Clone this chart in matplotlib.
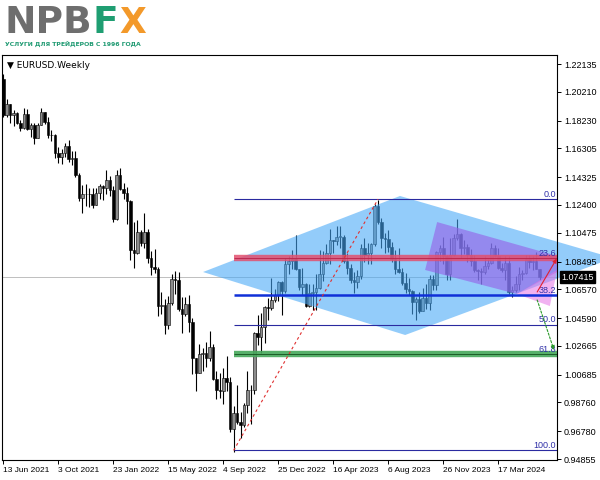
import matplotlib
matplotlib.use("Agg")
import matplotlib.pyplot as plt
import matplotlib.transforms as mtransforms
from matplotlib.patches import Polygon

plt.rcParams['font.family'] = ['Liberation Sans', 'DejaVu Sans']

# weekly EURUSD candles, one bar per week from 13 Jun 2021
first_open = 1.2107

closes_2021 = [1.1864, 1.1937, 1.1863, 1.1877, 1.1807, 1.1770, 1.1870, 1.1762, 1.1795, 1.1700,
               1.1795, 1.1882, 1.1813, 1.1725, 1.1720, 1.1596, 1.1574, 1.1602, 1.1645, 1.1560,
               1.1567, 1.1445, 1.1290, 1.1318, 1.1316, 1.1317, 1.1240, 1.1320, 1.1370]
highs_2021 = [1.2146, 1.1975, 1.1937, 1.1895, 1.1880, 1.1829, 1.1909, 1.1900, 1.1805, 1.1805,
              1.1805, 1.1909, 1.1885, 1.1846, 1.1755, 1.1727, 1.1640, 1.1624, 1.1669, 1.1692,
              1.1616, 1.1611, 1.1464, 1.1375, 1.1383, 1.1355, 1.1360, 1.1360, 1.1386]
lows_2021 = [1.1847, 1.1848, 1.1807, 1.1782, 1.1800, 1.1751, 1.1765, 1.1755, 1.1706, 1.1664,
             1.1700, 1.1790, 1.1800, 1.1700, 1.1684, 1.1563, 1.1529, 1.1524, 1.1571, 1.1535,
             1.1513, 1.1432, 1.1264, 1.1186, 1.1235, 1.1228, 1.1222, 1.1260, 1.1279]

closes_2022 = [1.1360, 1.1410, 1.1345, 1.1145, 1.1450, 1.1350, 1.1320, 1.1270, 1.0930, 1.0910,
               1.1050, 1.0980, 1.1050, 1.0875, 1.0810, 1.0795, 1.0545, 1.0550, 1.0410, 1.0560,
               1.0730, 1.0720, 1.0520, 1.0490, 1.0555, 1.0430, 1.0180, 1.0080, 1.0210, 1.0220,
               1.0180, 1.0260, 1.0040, 0.9965, 0.9955, 1.0045, 1.0015, 0.9690, 0.9800, 0.9740,
               0.9720, 0.9860, 0.9965, 0.9960, 1.0355, 1.0325, 1.0395, 1.0535, 1.0530, 1.0585,
               1.0615, 1.0705]
highs_2022 = [1.1380, 1.1483, 1.1440, 1.1370, 1.1483, 1.1495, 1.1395, 1.1365, 1.1272, 1.1121,
              1.1137, 1.1070, 1.1185, 1.1075, 1.0925, 1.0937, 1.0810, 1.0642, 1.0590, 1.0608,
              1.0765, 1.0787, 1.0774, 1.0601, 1.0605, 1.0615, 1.0460, 1.0185, 1.0278, 1.0255,
              1.0293, 1.0368, 1.0280, 1.0090, 1.0080, 1.0113, 1.0197, 1.0050, 0.9853, 0.9999,
              0.9810, 0.9875, 1.0094, 1.0000, 1.0365, 1.0481, 1.0497, 1.0545, 1.0595, 1.0737,
              1.0660, 1.0713]
lows_2022 = [1.1272, 1.1315, 1.1300, 1.1121, 1.1133, 1.1340, 1.1280, 1.1106, 1.0860, 1.0806,
             1.0900, 1.0960, 1.0945, 1.0837, 1.0757, 1.0770, 1.0470, 1.0490, 1.0350, 1.0380,
             1.0550, 1.0627, 1.0505, 1.0359, 1.0470, 1.0365, 1.0071, 0.9952, 1.0078, 1.0096,
             1.0123, 1.0160, 1.0030, 0.9900, 0.9910, 0.9864, 0.9955, 0.9670, 0.9536, 0.9730,
             0.9630, 0.9705, 0.9800, 0.9730, 0.9935, 1.0270, 1.0220, 1.0290, 1.0443, 1.0515,
             1.0570, 1.0580]

closes_2023 = [1.0645, 1.0830, 1.0855, 1.0870, 1.0795, 1.0675, 1.0695, 1.0545, 1.0635, 1.0640,
               1.0670, 1.0760, 1.0840, 1.0905, 1.0995, 1.0990, 1.1020, 1.1020, 1.0850, 1.0805,
               1.0720, 1.0710, 1.0750, 1.0940, 1.0895, 1.0910, 1.0970, 1.1230, 1.1125, 1.1015,
               1.1005, 1.0950, 1.0870, 1.0795, 1.0775, 1.0700, 1.0660, 1.0645, 1.0570, 1.0590,
               1.0510, 1.0595, 1.0565, 1.0730, 1.0685, 1.0915, 1.0940, 1.0885, 1.0760, 1.0895,
               1.1010, 1.1040]
highs_2023 = [1.0713, 1.0874, 1.0887, 1.0930, 1.1033, 1.0800, 1.0805, 1.0700, 1.0695, 1.0695,
              1.0760, 1.0930, 1.0925, 1.0973, 1.1075, 1.1000, 1.1095, 1.1092, 1.1030, 1.0905,
              1.0830, 1.0780, 1.0790, 1.0970, 1.1012, 1.0976, 1.0975, 1.1245, 1.1276, 1.1150,
              1.1045, 1.1065, 1.0985, 1.0930, 1.0945, 1.0805, 1.0770, 1.0735, 1.0655, 1.0605,
              1.0640, 1.0670, 1.0695, 1.0755, 1.0755, 1.0925, 1.0965, 1.1017, 1.0895, 1.1009,
              1.1040, 1.1140]
lows_2023 = [1.0483, 1.0635, 1.0765, 1.0800, 1.0790, 1.0655, 1.0615, 1.0535, 1.0533, 1.0516,
             1.0515, 1.0660, 1.0712, 1.0830, 1.0830, 1.0910, 1.0965, 1.0942, 1.0840, 1.0760,
             1.0700, 1.0635, 1.0665, 1.0730, 1.0845, 1.0835, 1.0833, 1.0960, 1.1110, 1.0945,
             1.0910, 1.0915, 1.0845, 1.0765, 1.0770, 1.0685, 1.0630, 1.0615, 1.0490, 1.0448,
             1.0495, 1.0525, 1.0520, 1.0515, 1.0655, 1.0655, 1.0850, 1.0830, 1.0725, 1.0725,
             1.0890, 1.1000]

closes_2024 = [1.0940, 1.0950, 1.0895, 1.0855, 1.0790, 1.0785, 1.0775, 1.0820, 1.0840, 1.0940,
               1.0890, 1.0808, 1.0790, 1.0837, 1.0642, 1.0655, 1.0695, 1.0760, 1.0770, 1.0870,
               1.0848, 1.0850, 1.0800, 1.07415]
highs_2024 = [1.1045, 1.0998, 1.0970, 1.0935, 1.0895, 1.0795, 1.0805, 1.0888, 1.0865, 1.0980,
              1.0965, 1.0942, 1.0840, 1.0885, 1.0885, 1.0680, 1.0750, 1.0812, 1.0790, 1.0895,
              1.0895, 1.0890, 1.0916, 1.0800]
lows_2024 = [1.0875, 1.0900, 1.0845, 1.0820, 1.0780, 1.0720, 1.0695, 1.0760, 1.0795, 1.0835,
             1.0880, 1.0800, 1.0775, 1.0725, 1.0622, 1.0601, 1.0640, 1.0650, 1.0725, 1.0765,
             1.0805, 1.0790, 1.0795, 1.0720]

closes = closes_2021 + closes_2022 + closes_2023 + closes_2024
highs = highs_2021 + highs_2022 + highs_2023 + highs_2024
lows = lows_2021 + lows_2022 + lows_2023 + lows_2024
opens = [first_open] + closes[:-1]

date_ticks = [0, 16, 32, 48, 64, 80, 96, 112, 128, 144]
date_labels = ['13 Jun 2021', '3 Oct 2021', '23 Jan 2022', '15 May 2022', '4 Sep 2022',
               '25 Dec 2022', '16 Apr 2023', '6 Aug 2023', '26 Nov 2023', '17 Mar 2024']
price_ticks = [1.22135, 1.20210, 1.18230, 1.16305, 1.14325, 1.12400, 1.10475, 1.08495,
               1.06570, 1.04590, 1.02665, 1.00685, 0.98760, 0.96780, 0.94855]
last_price = 1.07415

# fibonacci grid from the Sep 2022 low to the Jul 2023 high
fib_low_bar = 67
fib_high_bar = 109
fib_low = 0.9545
fib_high = 1.1280
fib_ratios = [0.0, 23.6, 38.2, 50.0, 61.8, 100.0]

# drawn objects (bar index, price)
diamond_bars = [58.1, 115.4, 177.4, 116.9]
diamond_prices = [1.0777, 1.1302, 1.0874, 1.0342]
channel_bars = [126.2, 161.1, 161.1, 149.4, 122.7]
channel_prices = [1.1122, 1.0888, 1.0777, 1.0625, 1.0791]
tri_bars = [149.4, 161.1, 159.0]
tri_prices = [1.0625, 1.0791, 1.0542]
up_arrow_bars = [155.3, 161.0]
up_arrow_prices = [1.0639, 1.0870]
down_arrow_bars = [155.3, 160.2]
down_arrow_prices = [1.0584, 1.0238]

fig = plt.figure(figsize=(6, 4.8), dpi=100)
ax = fig.add_axes([2 / 600, 20 / 480, 555 / 600, 405 / 480])
ax.set_xlim(-0.38, 161.07)
ax.set_ylim(0.94787, 1.22757)

# candles
n = len(closes)
idx = list(range(n))
wick_lo = [min(lows[i], opens[i], closes[i]) for i in idx]
wick_hi = [max(highs[i], opens[i], closes[i]) for i in idx]
ax.vlines(idx, wick_lo, wick_hi, color='black', lw=0.8, zorder=1)
body_bot = [min(opens[i], closes[i]) for i in idx]
body_h = [max(abs(closes[i] - opens[i]), 0.0003) for i in idx]
body_col = ['#8c8c8c' if closes[i] >= opens[i] else 'black' for i in idx]
ax.bar(idx, body_h, bottom=body_bot, width=0.75, color=body_col,
       edgecolor='black', linewidth=0.4, zorder=1.1)

# current price line
ax.axhline(last_price, color='#b4b4b4', lw=0.6, zorder=0.9)

# shapes
ax.add_patch(Polygon(list(zip(diamond_bars, diamond_prices)), closed=True,
                     facecolor='#46a8f7', alpha=0.58, edgecolor='none',
                     zorder=1.5, clip_on=False))
ax.add_patch(Polygon(list(zip(channel_bars, channel_prices)), closed=True,
                     facecolor='#9660e8', alpha=0.62, edgecolor='none', zorder=1.6))
ax.add_patch(Polygon(list(zip(tri_bars, tri_prices)), closed=True,
                     facecolor='#e673e6', alpha=0.55, edgecolor='none', zorder=1.7))

# fibonacci levels
x_right = 161.07
fib_prices = [fib_high - r / 100.0 * (fib_high - fib_low) for r in fib_ratios]
for r, p in zip(fib_ratios, fib_prices):
    if r == 23.6:
        ax.hlines(p, fib_low_bar, x_right, color='#e2506e', lw=4.6, alpha=0.85, zorder=2)
        ax.hlines(p, fib_low_bar, x_right, color='#b82048', lw=0.6, zorder=2.1)
    elif r == 61.8:
        ax.hlines(p, fib_low_bar, x_right, color='#45a85a', lw=4.6, alpha=0.9, zorder=2)
        ax.hlines(p, fib_low_bar, x_right, color='#1d5e28', lw=0.7, zorder=2.1)
    elif r == 38.2:
        ax.hlines(p, fib_low_bar, x_right, color='#1030d8', lw=1.8, zorder=2)
    else:
        ax.hlines(p, fib_low_bar, x_right, color='#2a2aa0', lw=0.8, zorder=2)
    ax.text(x_right - 0.3, p + 0.0004, '%.1f' % r, ha='right', va='bottom',
            fontsize=6.5, color='#3030a8', zorder=3)

ax.plot([fib_low_bar, fib_high_bar], [fib_low, fib_high], color='#e03030',
        lw=0.8, ls=(0, (2.5, 2.5)), zorder=2)

# arrows
ax.annotate('', xy=(up_arrow_bars[1], up_arrow_prices[1]),
            xytext=(up_arrow_bars[0], up_arrow_prices[0]),
            arrowprops=dict(arrowstyle='-|>', color='#e02030', lw=0.8,
                            mutation_scale=6, shrinkA=0, shrinkB=0),
            annotation_clip=False, zorder=3)
ax.annotate('', xy=(down_arrow_bars[1], down_arrow_prices[1]),
            xytext=(down_arrow_bars[0], down_arrow_prices[0]),
            arrowprops=dict(arrowstyle='-|>', color='#2a9a2a', lw=0.8, ls=(0, (2, 1.5)),
                            mutation_scale=6, shrinkA=0, shrinkB=0),
            annotation_clip=False, zorder=3)

# axes styling
for s in ax.spines.values():
    s.set_linewidth(0.8)
    s.set_color('black')
ax.yaxis.tick_right()
ax.set_yticks(price_ticks)
ax.set_yticklabels(['%.5f' % p for p in price_ticks])
ax.set_xticks(date_ticks)
ax.set_xticklabels(date_labels)
plt.setp(ax.get_xticklabels(), ha='left', fontsize=6)
ax.tick_params(axis='both', direction='out', length=3, width=0.7, labelsize=6.5,
               colors='black', pad=2)
plt.setp(ax.get_xticklabels(), fontsize=6)

trans = mtransforms.blended_transform_factory(ax.transAxes, ax.transData)
ax.text(1.0 + 4 / 555, last_price, '1.07415', transform=trans, ha='left', va='center',
        fontsize=6.5, color='white', zorder=4, clip_on=False,
        bbox=dict(boxstyle='square,pad=0.15', facecolor='black', edgecolor='black'))

ax.text(5 / 555, 0.985, '\u25bc EURUSD.Weekly', transform=ax.transAxes, ha='left',
        va='top', fontsize=6.5, color='black', family=['DejaVu Sans'], zorder=4)

# logo
fig.text(5 / 600, 1 - 33 / 480, 'NPB', fontsize=27, fontweight='bold',
         color='#6e6e6e', family=['DejaVu Sans'], va='baseline')
fig.text(93 / 600, 1 - 33 / 480, 'F', fontsize=27, fontweight='bold',
         color='#1f9e72', family=['DejaVu Sans'], va='baseline')
fig.text(119 / 600, 1 - 33 / 480, 'X', fontsize=25, fontweight='bold',
         color='#f3992a', family=['DejaVu Sans'], va='baseline')
fig.text(5 / 600, 1 - 46 / 480, 'УСЛУГИ ДЛЯ ТРЕЙДЕРОВ С 1996 ГОДА', fontsize=4.4,
         fontweight='bold', color='#1f9a72', family=['DejaVu Sans'], va='baseline')

fig.savefig('out.png', dpi=100)
